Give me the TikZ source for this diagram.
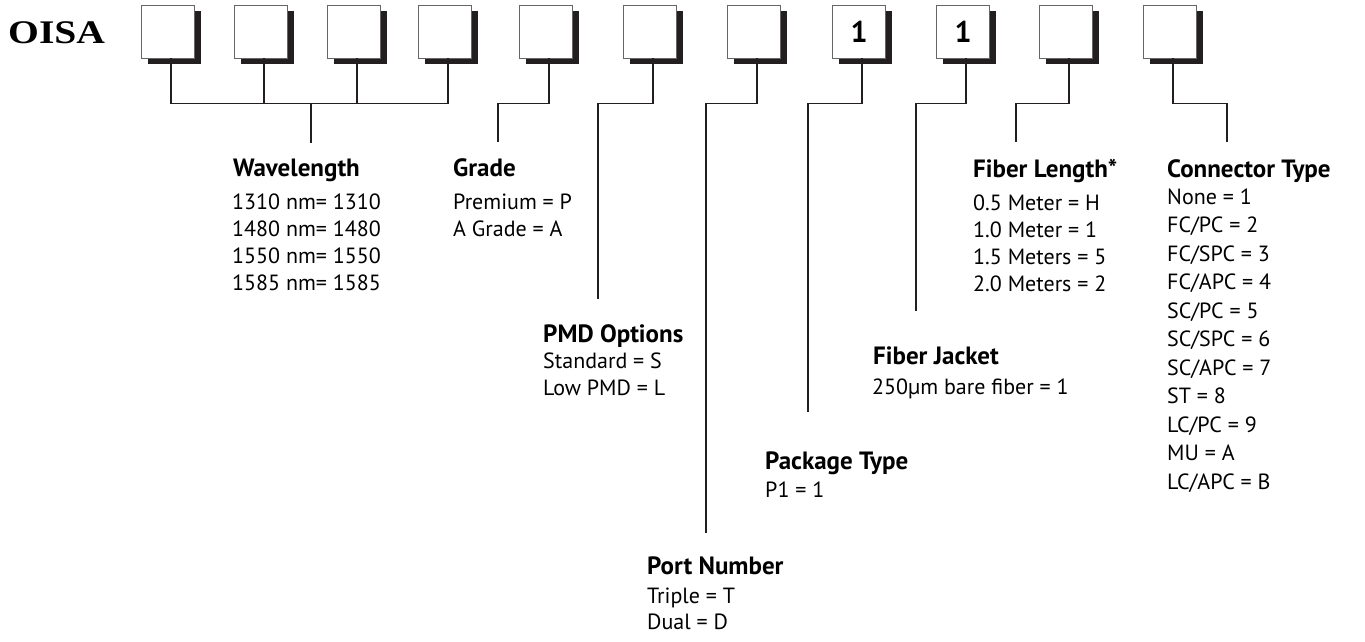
\documentclass[tikz,border=0pt]{standalone}
\usepackage{graphicx}
\usepackage{fontspec}
\setmainfont{PT Sans}
\newfontfamily\oisafont{Liberation Serif}
\usetikzlibrary{shadows}
\definecolor{ink}{HTML}{231F20}
\begin{document}
\begin{tikzpicture}[x=1pt,y=-1pt,
  digit/.style={draw=black!60, line width=1.3pt, fill=white,
    minimum width=53pt, minimum height=53pt, inner sep=0pt, outer sep=0pt,
    drop shadow={shadow xshift=6pt, shadow yshift=-6pt, opacity=1, fill=ink},
    font=\bfseries\fontsize{30}{30}\selectfont},
  lead/.style={draw=ink, line width=1.1pt},
  head/.style={anchor=base west, inner sep=0pt, font=\bfseries\fontsize{25}{25}\selectfont},
  item/.style={anchor=base west, inner sep=0pt, font=\fontsize{22}{22}\selectfont}]
\useasboundingbox (0,0) rectangle (1365,642);

\node[anchor=base west, inner sep=0pt, font=\oisafont\bfseries\fontsize{33}{33}\selectfont] (oisa) at (8,44) {\scalebox{1.2}[1]{OISA}};

% boxes
\foreach \cx [count=\i] in {168,261,354,445,546,650,754,859,963,1066,1170}{
  \node[digit] (b\i) at (\cx,32) {\ifnum\i=8 1\fi\ifnum\i=9 1\fi};
  \coordinate (s\i) at ([xshift=3pt]b\i.south);
}

\coordinate (busy) at (0,103.5);
% Wavelength
\coordinate (wlEnd) at (311,143);
\draw[lead] (s1) -- (s1 |- busy) -- (s4 |- busy) -- (s4);
\draw[lead] (s2) -- (s2 |- busy);
\draw[lead] (s3) -- (s3 |- busy);
\draw[lead] (wlEnd |- busy) -- (wlEnd);
% Grade
\coordinate (grEnd) at (498,142);
\draw[lead] (s5) -- (s5 |- busy) -| (grEnd);
% PMD
\coordinate (pmEnd) at (598,299);
\draw[lead] (s6) -- (s6 |- busy) -| (pmEnd);
% Port
\coordinate (poEnd) at (706,533);
\draw[lead] (s7) -- (s7 |- busy) -| (poEnd);
% Package
\coordinate (paEnd) at (808,412);
\draw[lead] (s8) -- (s8 |- busy) -| (paEnd);
% Jacket
\coordinate (jaEnd) at (916,311);
\draw[lead] (s9) -- (s9 |- busy) -| (jaEnd);
% Length
\coordinate (leEnd) at (1016,142);
\draw[lead] (s10) -- (s10 |- busy) -| (leEnd);
% Connector
\coordinate (coEnd) at (1227,142);
\draw[lead] (s11) -- (s11 |- busy) -| (coEnd);

% texts
\node[head] (hwl) at (233,176) {Wavelength};
\foreach \t [count=\i] in {1310 nm= 1310,1480 nm= 1480,1550 nm= 1550,1585 nm= 1585}
  \node[item] (wl\i) at (232,{209+27*(\i-1)}) {\t};

\node[head] (hgr) at (453,176) {Grade};
\foreach \t [count=\i] in {Premium = P,A Grade = A}
  \node[item] (gr\i) at (453,{209+27*(\i-1)}) {\t};

\node[head] (hpm) at (543,342) {PMD Options};
\foreach \t [count=\i] in {Standard = S,Low PMD = L}
  \node[item] (pm\i) at (543,{368+27*(\i-1)}) {\t};

\node[head] (hpo) at (647,574) {Port Number};
\foreach \t [count=\i] in {Triple = T,Dual = D}
  \node[item] (po\i) at (647,{603+26*(\i-1)}) {\t};

\node[head] (hpa) at (765,469) {Package Type};
\node[item] (pa1) at (765,497) {P1 = 1};

\node[head] (hja) at (873,364) {Fiber Jacket};
\node[item] (ja1) at (872,394) {250µm bare fiber = 1};

\node[head] (hle) at (973,177) {Fiber Length*};
\foreach \t [count=\i] in {0.5 Meter = H,1.0 Meter = 1,1.5 Meters = 5,2.0 Meters = 2}
  \node[item] (le\i) at (973,{210+27*(\i-1)}) {\t};

\node[head] (hco) at (1167,177) {Connector Type};
\foreach \t [count=\i] in {None = 1,FC/PC = 2,FC/SPC = 3,FC/APC = 4,SC/PC = 5,SC/SPC = 6,SC/APC = 7,ST = 8,LC/PC = 9,MU = A,LC/APC = B}
  \node[item] (co\i) at (1167,{204+28.5*(\i-1)}) {\t};
\end{tikzpicture}
\end{document}
